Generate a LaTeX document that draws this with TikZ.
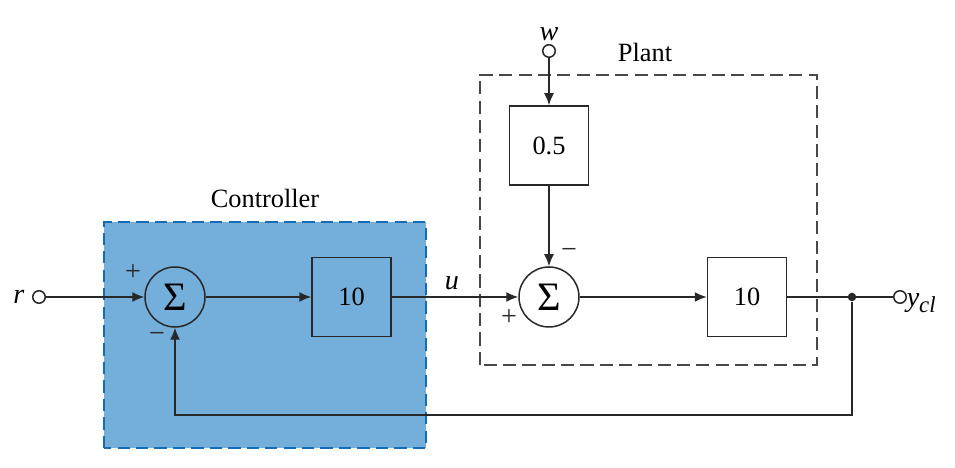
\documentclass[tikz,border=0pt]{standalone}
\usepackage{fontspec}
\setmainfont{Liberation Serif}
\usepackage{xcolor}
\usetikzlibrary{
    arrows.meta,
    positioning,
    calc
}
\definecolor{ctrlfill}{RGB}{116,174,218}
\definecolor{ctrledge}{RGB}{22,108,180}
\definecolor{wire}{RGB}{40,40,40}

\begin{document}
\begin{tikzpicture}[
            font=\fontsize{15}{18}\selectfont,
            >=Latex,
            line width=0.85pt,
            block/.style={draw=wire, minimum width=1.58cm, minimum height=1.58cm, inner sep=0pt},
            summer/.style={draw=wire, circle, minimum size=1.2cm, inner sep=0pt,
                           font=\fontsize{23}{25}\selectfont},
            port/.style={draw=wire, circle, fill=white, minimum size=0.25cm, inner sep=0pt},
            junction/.style={fill=wire, circle, minimum size=0.17cm, inner sep=0pt},
            sign/.style={font=\fontsize{16}{18}\selectfont, text=wire},
            sig/.style={font=\fontsize{16}{18}\selectfont\itshape},
            arr/.style={-{Latex[length=2.4mm, width=2mm]}, draw=wire},
            wireline/.style={draw=wire}
        ]
            \useasboundingbox (0,0) rectangle (19.1,9.36);

            % controller and plant frames
            \draw[fill=ctrlfill, draw=ctrledge, line width=1.1pt, dash pattern=on 7pt off 3.5pt]
                (2.08,0.4) rectangle (8.52,4.92);
            \node (ctrltitle) at (5.3,5.4) {Controller};
            \draw[draw=wire!85, line width=0.9pt, dash pattern=on 7.5pt off 3.5pt]
                (9.6,2.06) rectangle (16.34,7.86);
            \node (planttitle) at (12.9,8.32) {Plant};

            % blocks
            \node[port] (r) at (0.78,3.42) {};
            \node[sig, left=0.02cm of r] (rlabel) {r};
            \node[summer] (sum1) at (3.5,3.42) {Σ};
            \node[block] (ctrlgain) at (7.03,3.42) {10};
            \node[summer, fill=white] (sum2) at (10.98,3.42) {Σ};
            \node[block, fill=white] (wgain) at (10.98,6.45) {0.5};
            \node[block, fill=white] (plantgain) at (14.94,3.42) {10};
            \node[port] (w) at (10.98,8.34) {};
            \node[sig, above=-0.06cm of w] (wlabel) {w};
            \node[port] (ycl) at (18.0,3.42) {};
            \node[anchor=west, inner sep=0pt] (ycllabel) at (18.12,3.3)
                {\fontsize{16}{18}\selectfont\textit{y}\raisebox{-0.45ex}{\fontsize{13}{14}\selectfont\textit{cl}}};
            \coordinate (fbcorner) at (17.04,1.06);

            % signs
            \node[sign] (plus1) at (2.66,3.9) {+};
            \node[sign] (minus1) at (3.14,2.62) {−};
            \node[sign] (plus2) at (10.18,3.0) {+};
            \node[sign] (minus2) at (11.38,4.3) {−};

            % wires
            \draw[arr] (r) -- (sum1);
            \draw[arr] (sum1) -- (ctrlgain);
            \draw[arr] (ctrlgain) -- node[sig, above=0.02cm, xshift=-0.06cm]{u} (sum2);
            \draw[arr] (w) -- (wgain);
            \draw[arr] (wgain) -- (sum2);
            \draw[arr] (sum2) -- (plantgain);
            \draw[wireline] (plantgain) -- (ycl);
            \node[junction] (tap) at (17.04,3.42) {};
            \draw[arr] (tap) -- (fbcorner) -| (sum1.south);
        \end{tikzpicture}
\end{document}
